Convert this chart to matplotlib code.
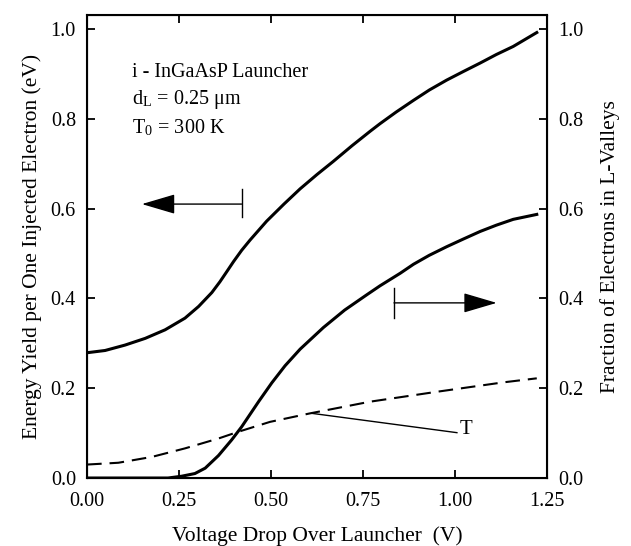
import numpy as np
import matplotlib
matplotlib.use("Agg")
import matplotlib.pyplot as plt

plt.rcParams['font.family'] = ['Liberation Serif', 'DejaVu Serif']
plt.rcParams['mathtext.fontset'] = 'stix'

# energy yield per injected electron (left axis)
v_energy = [0.0, 0.049, 0.103, 0.158, 0.212, 0.266, 0.303, 0.339, 0.361, 0.38, 0.398, 0.42,
            0.443, 0.488, 0.535, 0.579, 0.625, 0.669, 0.72, 0.769, 0.796, 0.84, 0.887, 0.93,
            0.977, 1.022, 1.068, 1.112, 1.158, 1.222]
energy = [0.279, 0.284, 0.296, 0.311, 0.33, 0.356, 0.382, 0.413, 0.437, 0.46, 0.482, 0.507,
          0.53, 0.572, 0.61, 0.644, 0.676, 0.705, 0.74, 0.772, 0.789, 0.815, 0.841, 0.864,
          0.886, 0.905, 0.924, 0.943, 0.961, 0.992]

# fraction of electrons in L-valleys (right axis)
v_frac = [0.0, 0.22, 0.257, 0.293, 0.321, 0.357, 0.393, 0.42, 0.466, 0.502, 0.538,
          0.579, 0.642, 0.70, 0.76, 0.796, 0.851, 0.887, 0.93, 0.977, 1.022, 1.068,
          1.112, 1.158, 1.222]
frac = [0.0, 0.0, 0.004, 0.01, 0.022, 0.05, 0.085, 0.114, 0.17, 0.212, 0.25,
        0.287, 0.335, 0.374, 0.408, 0.428, 0.456, 0.476, 0.496, 0.515, 0.532, 0.549,
        0.563, 0.576, 0.587]

# dashed curve T
v_t = [0.0, 0.085, 0.176, 0.266, 0.357, 0.411, 0.497, 0.606, 0.769, 0.95, 1.131, 1.222]
t_val = [0.03, 0.034, 0.047, 0.066, 0.088, 0.103, 0.125, 0.144, 0.17, 0.192, 0.213, 0.222]

fig = plt.figure(figsize=(6.31, 5.46), dpi=100)
ax = fig.add_axes([0.138, 0.1245, 0.729, 0.848])

ax.plot(v_energy, energy, color='k', lw=2.2, solid_joinstyle='round')
ax.plot(v_frac, frac, color='k', lw=2.2, solid_joinstyle='round')
ax.plot(v_t, t_val, color='k', lw=1.5, dashes=(7, 3.8))

ax.set_xlim(0, 1.25)
ax.set_ylim(0, 1.031)
ax.set_xticks([0, 0.25, 0.5, 0.75, 1.0, 1.25])
ax.set_xticklabels(['0.00', '0.25', '0.50', '0.75', '1.00', '1.25'])
ax.set_yticks([0, 0.2, 0.4, 0.6, 0.8, 1.0])
ax.set_yticklabels(['0.0', '0.2', '0.4', '0.6', '0.8', '1.0'])
ax.tick_params(direction='in', length=6, width=1.3, labelsize=14.5, top=True, right=False, pad=8)
ax.tick_params(axis='x', pad=10)
for s in ax.spines.values():
    s.set_linewidth(1.5)

ax2 = ax.twinx()
ax2.set_ylim(0, 1.031)
ax2.set_yticks([0, 0.2, 0.4, 0.6, 0.8, 1.0])
ax2.set_yticklabels(['0.0', '0.2', '0.4', '0.6', '0.8', '1.0'])
ax2.tick_params(direction='in', length=6, width=1.3, labelsize=14.5, pad=8)

ax.set_xlabel('Voltage Drop Over Launcher  (V)', fontsize=15.5, labelpad=11)
ax.set_ylabel('Energy Yield per One Injected Electron (eV)', fontsize=15.5, labelpad=6)
ax2.set_ylabel('Fraction of Electrons in L-Valleys', fontsize=15.5, labelpad=12)

# text block
ax.text(0.122, 0.904, 'i - InGaAsP Launcher', fontsize=14.5, va='center')
ax.text(0.122, 0.843, r'd$_\mathregular{L}$ = 0.25 $\mathregular{\mu}$m', fontsize=14.5, va='center')
ax.text(0.122, 0.779, r'T$_\mathregular{0}$ = 300 K', fontsize=14.5, va='center')

# arrows pointing to the axes
arrow = dict(arrowstyle='-|>,head_length=2.1,head_width=0.62', color='k', lw=1.0,
             shrinkA=0, shrinkB=0)
ax.annotate('', xy=(0.149, 0.61), xytext=(0.42, 0.61), arrowprops=arrow)
ax.plot([0.42, 0.42], [0.581, 0.644], color='k', lw=1.0)
ax.annotate('', xy=(1.113, 0.39), xytext=(0.834, 0.39), arrowprops=arrow)
ax.plot([0.834, 0.834], [0.357, 0.424], color='k', lw=1.0)

# label T
ax.plot([0.611, 1.005], [0.144, 0.101], color='k', lw=1.0)
ax.text(1.012, 0.107, 'T', fontsize=15, va='center')

fig.savefig('out.png', dpi=100)
